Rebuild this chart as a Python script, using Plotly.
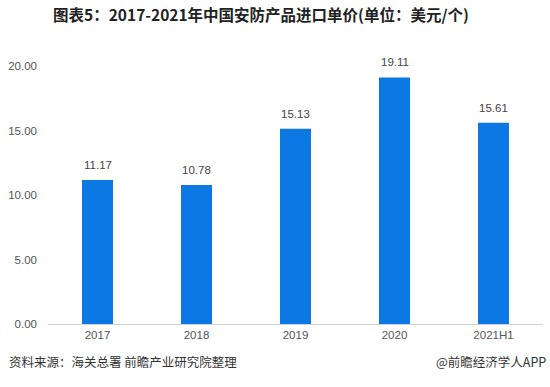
import plotly.graph_objects as go

categories = ["2017", "2018", "2019", "2020", "2021H1"]
values = [11.17, 10.78, 15.13, 19.11, 15.61]
tick_vals = [0, 5, 10, 15, 20]
tick_text = ["0.00", "5.00", "10.00", "15.00", "20.00"]

fig = go.Figure()
fig.add_trace(go.Bar(
    x=categories, y=values,
    marker=dict(color="#0b78e3", line=dict(width=0)),
    hoverinfo="x+y",
))

# value labels (category index positions on the category axis)
for i, v in enumerate(values):
    fig.add_annotation(
        x=i, y=v, xref="x", yref="y", text=f"{v:.2f}",
        showarrow=False, yanchor="middle", yshift=15,
        font=dict(size=11.5, color="#444", family="Liberation Sans, Arial, sans-serif"),
    )

fig.update_layout(
    width=550, height=387,
    margin=dict(l=48, r=7, t=66, b=63, autoexpand=False),
    paper_bgcolor="white", plot_bgcolor="white",
    bargap=0.687,
    showlegend=False,
    font=dict(family="Liberation Sans, Arial, sans-serif"),
    title=dict(
        text="<b>图表5：2017-2021年中国安防产品进口单价(单位：美元/个)</b>",
        x=0.4745, xanchor="center", y=1 - 16 / 387, yanchor="middle",
        font=dict(size=15.5, color="#222", family="Noto Sans CJK SC, sans-serif"),
    ),
    xaxis=dict(
        type="category", range=[-0.5, len(categories) - 0.5],
        showgrid=False, showline=True, linecolor="#d0d0d0", linewidth=1,
        ticks="", tickfont=dict(size=11.5, color="#555"), automargin=False,
    ),
    yaxis=dict(
        range=[0, 20], tickvals=tick_vals, ticktext=tick_text,
        showgrid=False, zeroline=False, showline=False,
        tickfont=dict(size=11.5, color="#555"), ticklabelstandoff=10, automargin=False,
    ),
)

fig.add_annotation(
    text="资料来源：海关总署 前瞻产业研究院整理",
    xref="paper", yref="paper", x=(7 - 48) / 495, y=-37 / 258, xanchor="left", yanchor="middle",
    showarrow=False, font=dict(size=12.5, color="#333", family="Noto Sans CJK SC, sans-serif"),
)
fig.add_annotation(
    text="@前瞻经济学人APP",
    xref="paper", yref="paper", x=(548 - 48) / 495, y=-37 / 258, xanchor="right", yanchor="middle",
    showarrow=False, font=dict(size=12.5, color="#333", family="Noto Sans CJK SC, sans-serif"),
)

fig.write_html(
    "out.html",
    config={"displayModeBar": False},
    post_script="document.body.style.margin='0';document.body.style.overflow='hidden';",
)
